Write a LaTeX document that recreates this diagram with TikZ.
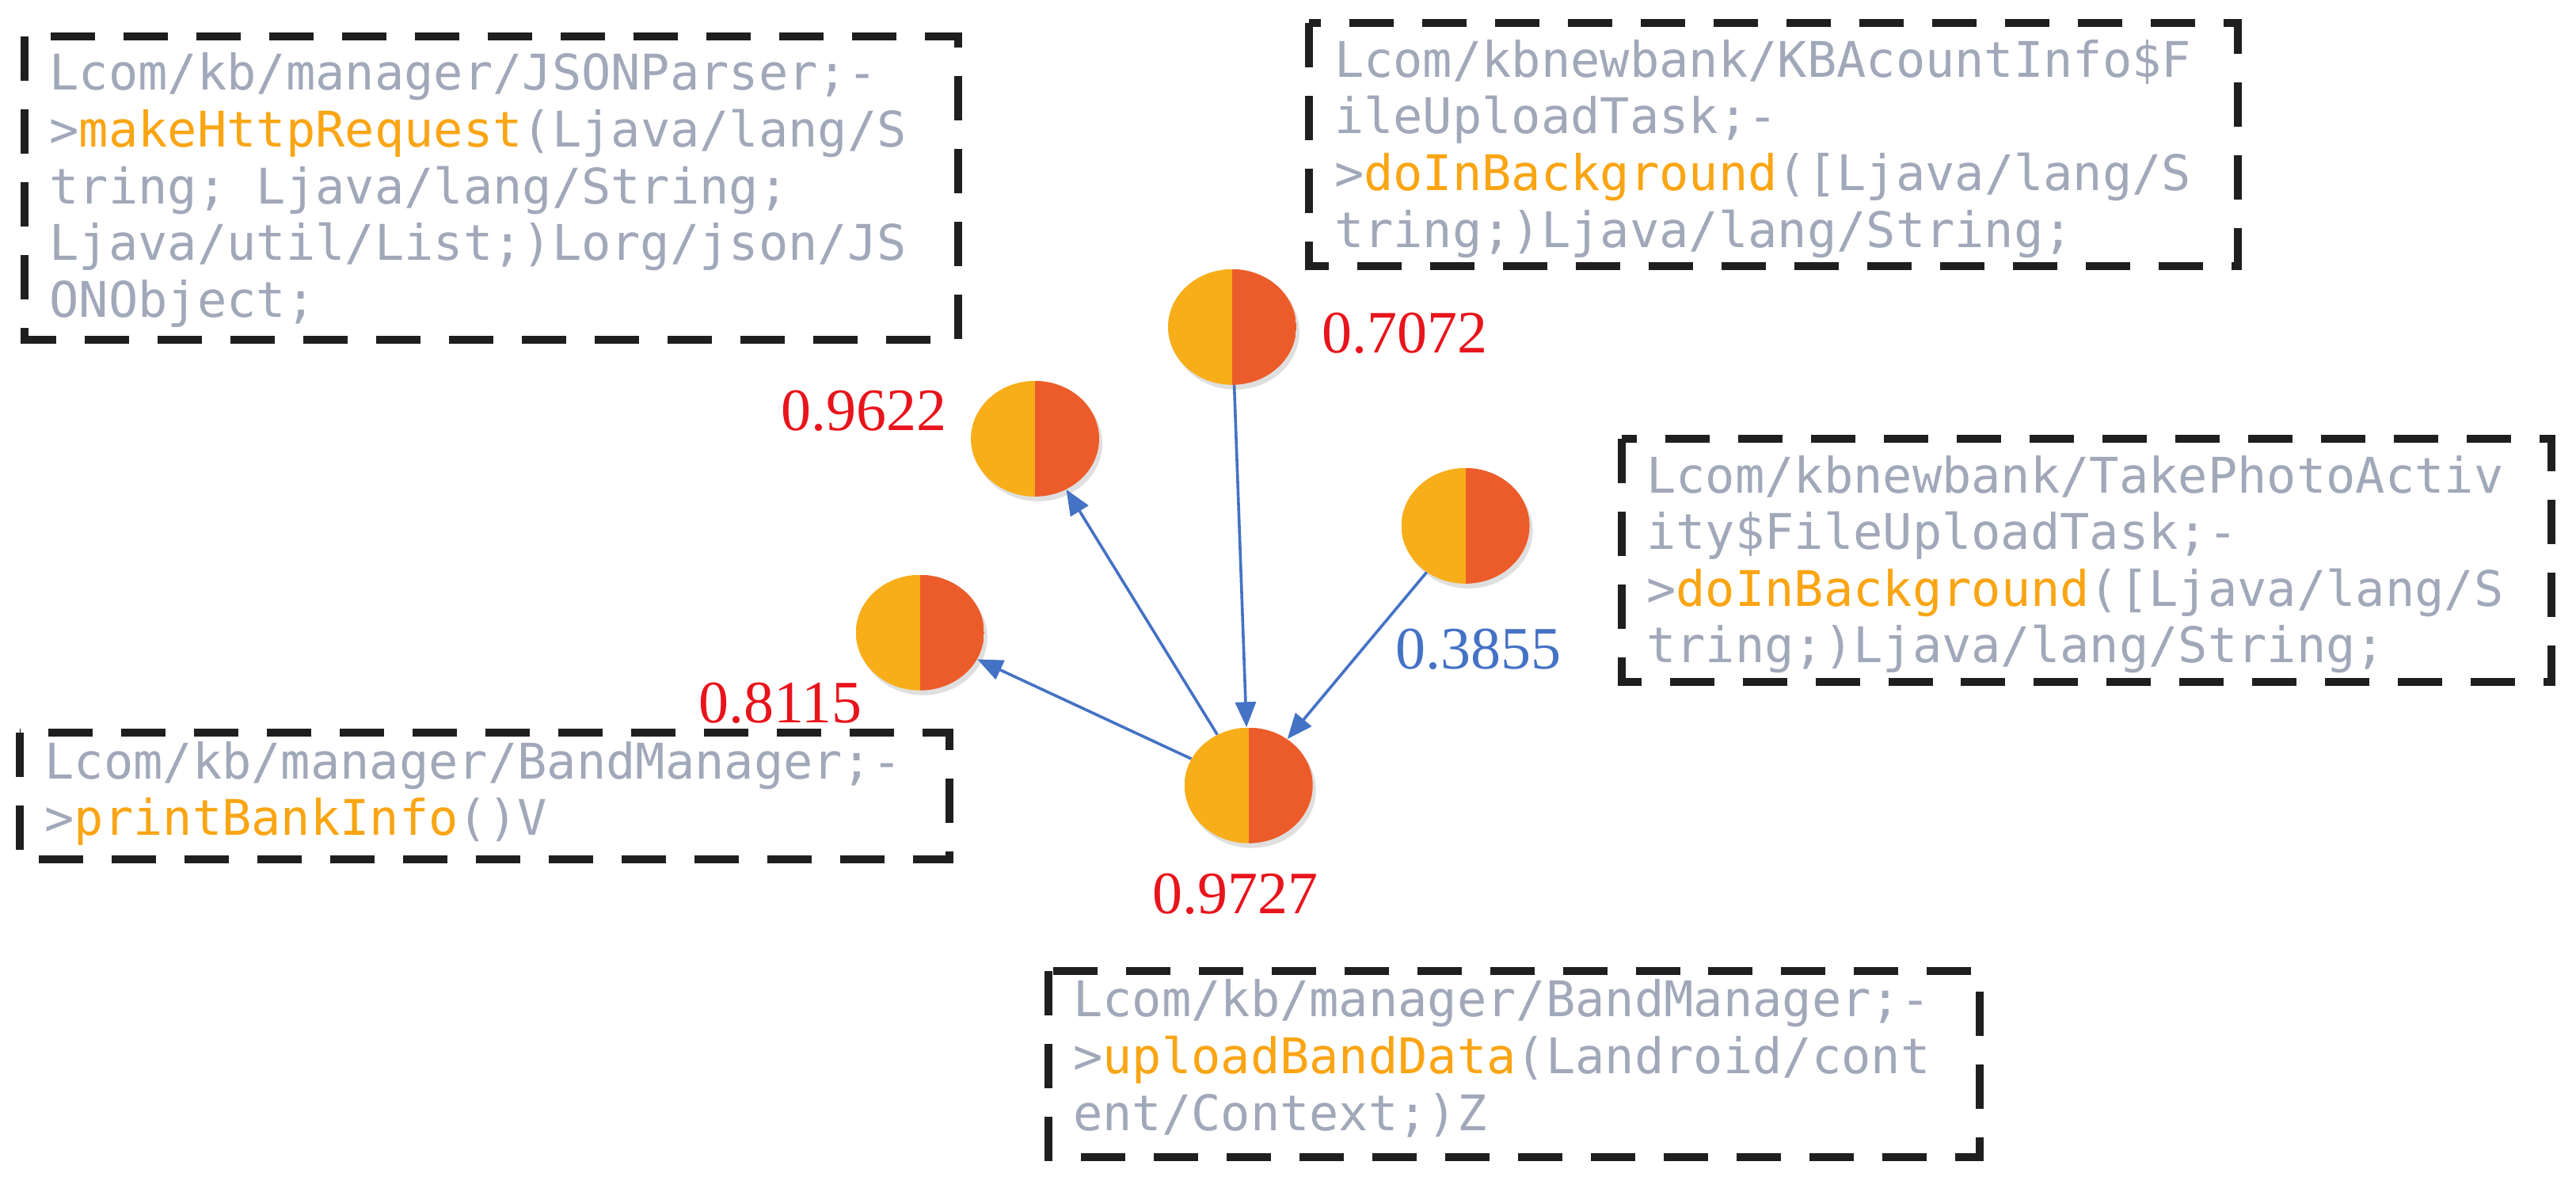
\documentclass[tikz,border=0pt]{standalone}
\usepackage{fontspec}
\setmainfont{Liberation Serif}
\newfontfamily\codefont{DejaVu Sans Mono}
\usetikzlibrary{arrows.meta,shadows}
\definecolor{codegray}{RGB}{160,168,185}
\definecolor{hl}{RGB}{250,165,20}
\definecolor{cleft}{RGB}{248,174,25}
\definecolor{cright}{RGB}{236,92,42}
\definecolor{eblue}{RGB}{68,114,196}
\definecolor{nred}{RGB}{232,20,28}
\begin{document}
\begin{tikzpicture}[x=1.0375pt,y=-1.0375pt,
  box/.style={draw=black!88,line width=5pt,dash pattern=on 28pt off 18pt},
  code/.style={anchor=north west,inner sep=0pt,align=left,text=codegray,
    font=\codefont\fontsize{31}{35.8}\selectfont},
  pie/.style={ellipse,minimum width=81pt,minimum height=73pt,inner sep=0pt,
    path picture={\fill[cleft](path picture bounding box.south west) rectangle (path picture bounding box.north);
      \fill[cright](path picture bounding box.south) rectangle (path picture bounding box.north east);},
    drop shadow={shadow xshift=2pt,shadow yshift=-3pt,opacity=0.25}},
  num/.style={font=\fontsize{38}{40}\selectfont,inner sep=0pt},
  edge/.style={draw=eblue,line width=1.8pt,-{Triangle[length=16pt,width=13pt]}}]
\useasboundingbox (0,0) rectangle (1568,725);
\fill[white] (0,0) rectangle (1568,725);
\usetikzlibrary{shapes.geometric}
% boxes
\draw[box] (15,22) rectangle (583,207);
\node[code] (t1) at (30,32) {Lcom/kb/manager/JSONParser;-\\>\textcolor{hl}{makeHttpRequest}(Ljava/lang/S\\tring; Ljava/lang/String;\\Ljava/util/List;)Lorg/json/JS\\ONObject;};
\draw[box] (797,14) rectangle (1362,162);
\node[code] (t2) at (812,24) {Lcom/kbnewbank/KBAcountInfo\$F\\ileUploadTask;-\\>\textcolor{hl}{doInBackground}([Ljava/lang/S\\tring;)Ljava/lang/String;};
\draw[box] (987,267) rectangle (1553,415);
\node[code] (t3) at (1002,277) {Lcom/kbnewbank/TakePhotoActiv\\ity\$FileUploadTask;-\\>\textcolor{hl}{doInBackground}([Ljava/lang/S\\tring;)Ljava/lang/String;};
\draw[box] (12,446) rectangle (578,523);
\node[code] (t4) at (27,451) {Lcom/kb/manager/BandManager;-\\>\textcolor{hl}{printBankInfo}()V};
\draw[box] (638,591) rectangle (1205,704);
\node[code] (t5) at (653,596) {Lcom/kb/manager/BandManager;-\\>\textcolor{hl}{uploadBandData}(Landroid/cont\\ent/Context;)Z};
% circles
\node[pie] (A) at (750,199) {};
\node[pie] (B) at (630,267) {};
\node[pie] (C) at (892,320) {};
\node[pie] (D) at (560,385) {};
\node[pie] (E) at (760,478) {};
% labels
\node[num,text=nred] (lA) at (855,203) {0.7072};
\node[num,text=nred] (lB) at (526,250) {0.9622};
\node[num,text=eblue] (lC) at (900,395) {0.3855};
\node[num,text=nred] (lD) at (475,428) {0.8115};
\node[num,text=nred] (lE) at (752,544) {0.9727};
% edges
\draw[edge] (E) -- (B);
\draw[edge] (E) -- (D);
\draw[edge] (A) -- (E);
\draw[edge] (C) -- (E);
\end{tikzpicture}
\end{document}
